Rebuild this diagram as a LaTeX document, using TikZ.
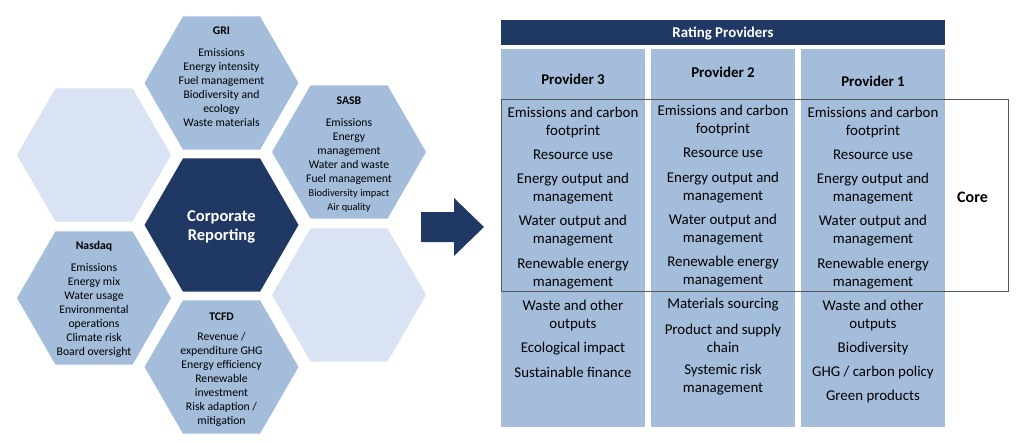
\documentclass[tikz,border=0pt]{standalone}
\usepackage{fontspec}
\setmainfont{Carlito}
\usetikzlibrary{shapes.geometric}
\definecolor{hexmid}{HTML}{A3BDDB}
\definecolor{hexlight}{HTML}{DAE3F3}
\definecolor{navy}{HTML}{203864}
\definecolor{coregray}{HTML}{595959}
\tikzset{
  hexa/.style={regular polygon, regular polygon sides=6, minimum size=154pt, inner sep=0pt, outer sep=0pt, draw=none},
  hextitle/.style={font=\fontsize{11.7}{14}\selectfont\bfseries, inner sep=0pt, align=center},
  hexbody/.style={font=\fontsize{11.7}{14}\selectfont, inner sep=0pt, align=center},
  item/.style={font=\fontsize{14.9}{18}\selectfont, inner sep=0pt, align=center},
  phead/.style={font=\fontsize{14.9}{18}\selectfont\bfseries, inner sep=0pt, align=center},
}
\begin{document}
\begin{tikzpicture}[x=1pt,y=-1pt]
\useasboundingbox (0,0) rectangle (1017,442);
% hexagons
\node[hexa, fill=hexmid] (gri) at (221.5,83) {};
\node[hexa, fill=hexmid] (sasb) at (349,152) {};
\node[hexa, fill=hexlight] (lhex) at (94,155) {};
\node[hexa, fill=navy] (corp) at (221.5,225) {};
\node[hexa, fill=hexmid] (nasdaq) at (94,298) {};
\node[hexa, fill=hexmid] (tcfd) at (221.5,367) {};
\node[hexa, fill=hexlight] (rhex) at (349,295) {};
% hex texts
\node[hextitle] (gri-t) at (221.5,31) {GRI};
\node[hexbody] (gri-b) at (221.5,88) {Emissions\\Energy intensity\\Fuel management\\Biodiversity and\\ecology\\Waste materials};
\node[hextitle] (sasb-t) at (349,101) {SASB};
\node[hexbody] (sasb-b) at (349,165) {Emissions\\Energy\\management\\Water and waste\\Fuel management\\{\fontsize{10.4}{12.5}\selectfont Biodiversity impact}\\{\fontsize{10.4}{12.5}\selectfont Air quality}};
\node[font=\fontsize{16.5}{19}\selectfont\bfseries, text=white, align=center, inner sep=0pt] (corp-t) at (221.5,227) {Corporate\\Reporting};
\node[hextitle] (nasdaq-t) at (94,246) {Nasdaq};
\node[hexbody] (nasdaq-b) at (94,310) {Emissions\\Energy mix\\Water usage\\Environmental\\operations\\Climate risk\\Board oversight};
\node[hextitle] (tcfd-t) at (221.5,317) {TCFD};
\node[hexbody] (tcfd-b) at (221.5,379) {Revenue /\\expenditure GHG\\Energy efficiency\\Renewable\\investment\\Risk adaption /\\mitigation};
% arrow
\fill[navy] (421,212) -- (454,212) -- (454,198) -- (484,227) -- (454,256) -- (454,242) -- (421,242) -- cycle;
% header
\fill[navy] (501,20) rectangle (945,45);
\node[phead, text=white] (hdr) at (723,33.5) {Rating Providers};
% columns
\fill[hexmid] (501,49) rectangle (645,427);
\fill[hexmid] (651,49) rectangle (795,427);
\fill[hexmid] (801,49) rectangle (945,427);
% provider 3
\node[phead] (p3) at (573,79) {Provider 3};
\node[item] (p3a) at (573,123) {Emissions and carbon\\footprint};
\node[item] (p3b) at (573,155) {Resource use};
\node[item] (p3c) at (573,189) {Energy output and\\management};
\node[item] (p3d) at (573,231) {Water output and\\management};
\node[item] (p3e) at (573,273.5) {Renewable energy\\management};
\node[item] (p3f) at (573,315.5) {Waste and other\\outputs};
\node[item] (p3g) at (573,348.5) {Ecological impact};
\node[item] (p3h) at (573,372) {Sustainable finance};
% provider 2
\node[phead] (p2) at (723,72) {Provider 2};
\node[item] (p2a) at (723,121) {Emissions and carbon\\footprint};
\node[item] (p2b) at (723,153) {Resource use};
\node[item] (p2c) at (723,188) {Energy output and\\management};
\node[item] (p2d) at (723,230) {Water output and\\management};
\node[item] (p2e) at (723,272) {Renewable energy\\management};
\node[item] (p2f) at (723,304.5) {Materials sourcing};
\node[item] (p2g) at (723,338) {Product and supply\\chain};
\node[item] (p2h) at (723,380) {Systemic risk\\management};
% provider 1
\node[phead] (p1) at (873,81) {Provider 1};
\node[item] (p1a) at (873,123) {Emissions and carbon\\footprint};
\node[item] (p1b) at (873,155) {Resource use};
\node[item] (p1c) at (873,189) {Energy output and\\management};
\node[item] (p1d) at (873,231) {Water output and\\management};
\node[item] (p1e) at (873,273.5) {Renewable energy\\management};
\node[item] (p1f) at (873,315.5) {Waste and other\\outputs};
\node[item] (p1g) at (873,348.5) {Biodiversity};
\node[item] (p1h) at (873,372.5) {GHG / carbon policy};
\node[item] (p1i) at (873,396.5) {Green products};
% core box
\draw[coregray, line width=0.9pt] (501,99) rectangle (1008,291);
\node[font=\fontsize{16}{19}\selectfont\bfseries, inner sep=0pt] (core) at (972.5,197) {Core};
\end{tikzpicture}
\end{document}
